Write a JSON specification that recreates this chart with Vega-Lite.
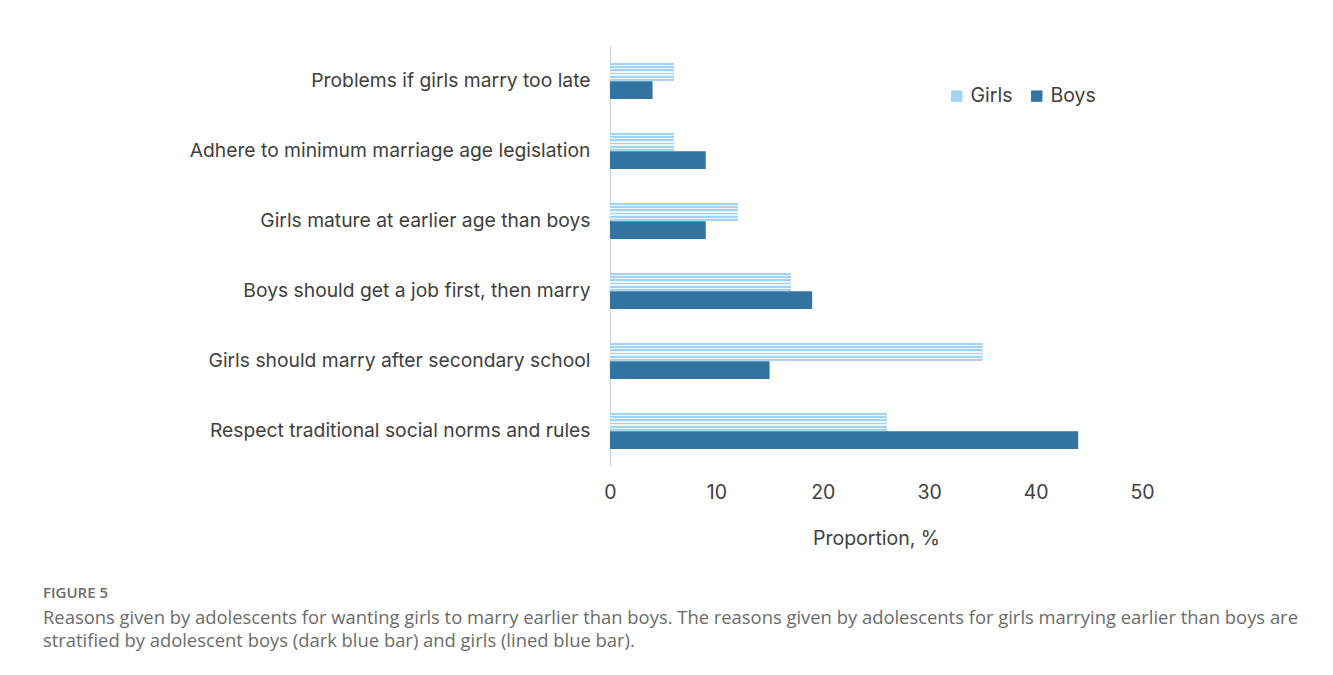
{
  "$schema": "https://vega.github.io/schema/vega-lite/v6.json",
  "autosize": {"type": "none"},
  "width": 532,
  "height": 420,
  "padding": {"left": 610, "top": 46, "right": 191, "bottom": 209},
  "background": "white",
  "data": {"values": [
    {"reason": "Problems if girls marry too late", "group": "Girls", "pct": 6},
    {"reason": "Problems if girls marry too late", "group": "Boys", "pct": 4},
    {"reason": "Adhere to minimum marriage age legislation", "group": "Girls", "pct": 6},
    {"reason": "Adhere to minimum marriage age legislation", "group": "Boys", "pct": 9},
    {"reason": "Girls mature at earlier age than boys", "group": "Girls", "pct": 12},
    {"reason": "Girls mature at earlier age than boys", "group": "Boys", "pct": 9},
    {"reason": "Boys should get a job first, then marry", "group": "Girls", "pct": 17},
    {"reason": "Boys should get a job first, then marry", "group": "Boys", "pct": 19},
    {"reason": "Girls should marry after secondary school", "group": "Girls", "pct": 35},
    {"reason": "Girls should marry after secondary school", "group": "Boys", "pct": 15},
    {"reason": "Respect traditional social norms and rules", "group": "Girls", "pct": 26},
    {"reason": "Respect traditional social norms and rules", "group": "Boys", "pct": 44}
  ]},
  "title": {
    "text": "FIGURE 5",
    "subtitle": ["Reasons given by adolescents for wanting girls to marry earlier than boys. The reasons given by adolescents for girls marrying earlier than boys are", "stratified by adolescent boys (dark blue bar) and girls (lined blue bar)."],
    "orient": "bottom",
    "anchor": "start",
    "frame": "group",
    "dx": -567,
    "offset": 38,
    "font": "Open Sans",
    "fontSize": 15,
    "fontWeight": 600,
    "color": "#6b6b6b",
    "subtitleFont": "Open Sans",
    "subtitleFontSize": 18.4,
    "subtitleFontWeight": "normal",
    "subtitleColor": "#6b6b6b",
    "subtitleLineHeight": 23,
    "subtitlePadding": 8
  },
  "encoding": {
    "y": {
      "field": "reason", "type": "nominal",
      "sort": ["Problems if girls marry too late", "Adhere to minimum marriage age legislation", "Girls mature at earlier age than boys", "Boys should get a job first, then marry", "Girls should marry after secondary school", "Respect traditional social norms and rules"],
      "scale": {"paddingInner": 0.486, "paddingOuter": 0.243},
      "axis": {"title": null, "ticks": false, "domainColor": "#d9d9d9", "domainWidth": 1.5, "labelPadding": 20, "labelFont": "Inter", "labelFontSize": 19.3, "labelColor": "#404040", "labelLimit": 500}
    },
    "yOffset": {"field": "group", "type": "nominal", "sort": ["Girls", "Boys"], "scale": {"paddingInner": 0.02}},
    "x": {
      "field": "pct", "type": "quantitative",
      "scale": {"domain": [0, 50]},
      "axis": {"title": "Proportion, %", "values": [0, 10, 20, 30, 40, 50], "grid": false, "domain": false, "ticks": false, "labelFlush": false, "labelPadding": 17, "labelFont": "Inter", "labelFontSize": 19.5, "labelColor": "#404040", "titleFont": "Inter", "titleFontSize": 19.5, "titleFontWeight": "normal", "titleColor": "#404040", "titlePadding": 28}
    }
  },
  "layer": [
    {
      "mark": {"type": "bar"},
      "encoding": {
        "color": {
          "field": "group", "type": "nominal",
          "scale": {"domain": ["Girls", "Boys"], "range": ["#a3d3f0", "#33739f"]},
          "legend": {"title": null, "orient": "none", "direction": "horizontal", "legendX": 337, "legendY": 40, "symbolType": "square", "symbolSize": 130, "symbolStrokeWidth": 0, "symbolOpacity": 1, "labelFont": "Inter", "labelFontSize": 19.5, "labelColor": "#404040", "columnPadding": 14, "labelOffset": 4}
        }
      }
    },
    {
      "transform": [{"filter": "datum.group === 'Girls'"}],
      "mark": {"type": "bar", "fill": {"gradient": "linear", "x1": 0, "y1": 0, "x2": 0, "y2": 1, "stops": [
          {"offset": 0, "color": "#a3d3f0"}, {"offset": 0.09, "color": "#a3d3f0"},
          {"offset": 0.09, "color": "#eaf5fc"}, {"offset": 0.18, "color": "#eaf5fc"},
          {"offset": 0.18, "color": "#a3d3f0"}, {"offset": 0.27, "color": "#a3d3f0"},
          {"offset": 0.27, "color": "#eaf5fc"}, {"offset": 0.36, "color": "#eaf5fc"},
          {"offset": 0.36, "color": "#a3d3f0"}, {"offset": 0.45, "color": "#a3d3f0"},
          {"offset": 0.45, "color": "#eaf5fc"}, {"offset": 0.55, "color": "#eaf5fc"},
          {"offset": 0.55, "color": "#a3d3f0"}, {"offset": 0.64, "color": "#a3d3f0"},
          {"offset": 0.64, "color": "#eaf5fc"}, {"offset": 0.73, "color": "#eaf5fc"},
          {"offset": 0.73, "color": "#a3d3f0"}, {"offset": 0.82, "color": "#a3d3f0"},
          {"offset": 0.82, "color": "#eaf5fc"}, {"offset": 0.91, "color": "#eaf5fc"},
          {"offset": 0.91, "color": "#a3d3f0"}, {"offset": 1, "color": "#a3d3f0"}
        ]}}
    }
  ],
  "config": {"view": {"stroke": null}}
}
